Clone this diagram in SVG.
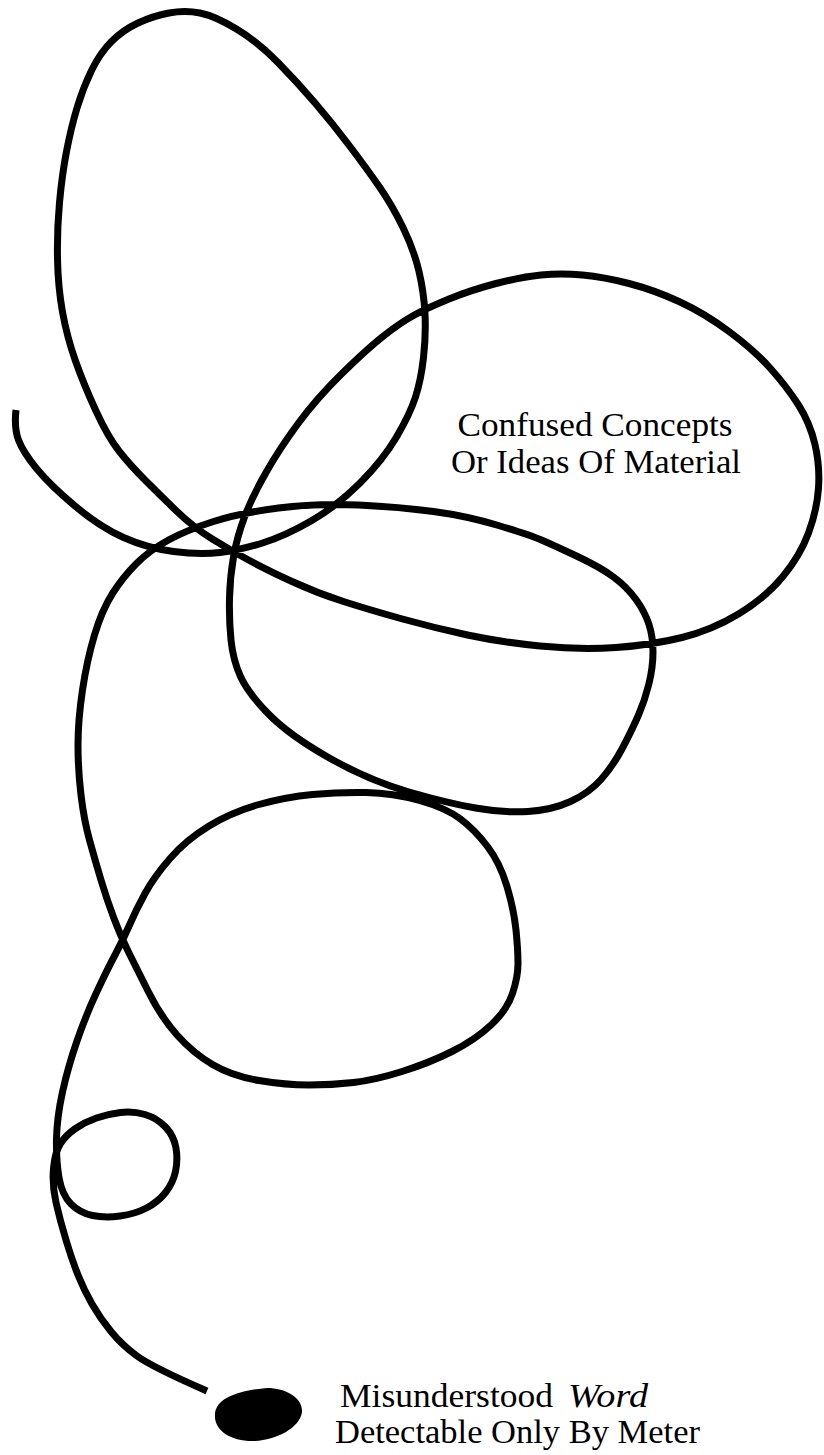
<svg xmlns="http://www.w3.org/2000/svg" width="824" height="1455" viewBox="0 0 824 1455">
<style>
.line{fill:none;stroke:#000;stroke-width:7;stroke-linecap:butt;stroke-linejoin:round}
.lbl{font-family:"Liberation Serif","Times New Roman",serif;font-size:34px;fill:#000}
</style>
<rect width="824" height="1455" fill="#fff"/>
<g id="connectors">
<path class="line" d="M16 410 Q14 428 18.5 440 Q23 452 36.5 468.5 Q50 485 75 506 Q100 527 123.5 537.5 Q147 548 173.5 551.5 Q200 555 220 552.5 Q240 550 262.5 543 Q285 536 311 521 Q337 506 360 483 Q383 460 396.5 437 Q410 414 415.5 397 Q421 380 423.5 357.5 Q426 335 425 314 Q424 293 419 271.5 Q414 250 403 227.5 Q392 205 379.5 187 Q367 169 350 146.5 Q333 124 315.5 103.5 Q298 83 278 62.5 Q258 42 236.5 29 Q215 16 200 13 Q185 10 169 13 Q153 16 138 23 Q123 30 111.5 41.5 Q100 53 91.5 70.5 Q83 88 77 108 Q71 128 66.5 151.5 Q62 175 59.5 202.5 Q57 230 57.5 258.5 Q58 287 62.5 312 Q67 337 75.5 361 Q84 385 96 411 Q108 437 119 451 Q130 465 145 480 Q160 495 176.5 511 Q193 527 211.5 538.5 Q230 550 248.5 560 Q267 570 292 581.5 Q317 593 343.5 601.5 Q370 610 402.5 619 Q435 628 467.5 635 Q500 642 540 646 Q580 650 616 647.5 Q652 645 682 637.5 Q712 630 738.5 614 Q765 598 782.5 577 Q800 556 808.5 533 Q817 510 818.5 488 Q820 466 815 444.5 Q810 423 798.5 405 Q787 387 770.5 368.5 Q754 350 729 331.5 Q704 313 679 301.5 Q654 290 629 283.5 Q604 277 582.5 275 Q561 273 541 275 Q521 277 496 283.5 Q471 290 449 299 Q427 308 413.5 315.5 Q400 323 383.5 336 Q367 349 342 373.5 Q317 398 298.5 423 Q280 448 266 472.5 Q252 497 244.5 517 Q237 537 233.5 557 Q230 577 229.5 598.5 Q229 620 231 640 Q233 660 240.5 676.5 Q248 693 268.5 714 Q289 735 328.5 757.5 Q368 780 407.5 791.5 Q447 803 475.5 808 Q504 813 528 811.5 Q552 810 570.5 801.5 Q589 793 601 779.5 Q613 766 622.5 748 Q632 730 638.5 715 Q645 700 649 683.5 Q653 667 653 652 Q653 637 649 624.5 Q645 612 636 599.5 Q627 587 613.5 577 Q600 567 576.5 556 Q553 545 541.5 540 Q530 535 498.5 525.5 Q467 516 433.5 511.5 Q400 507 358.5 505 Q317 503 278.5 508 Q240 513 213.5 521.5 Q187 530 168.5 540 Q150 550 136.5 563.5 Q123 577 112.5 593.5 Q102 610 94.5 635 Q87 660 82.5 690 Q78 720 78 745 Q78 770 81 795 Q84 820 89.5 840 Q95 860 101 880 Q107 900 114 918.5 Q121 937 128.5 952 Q136 967 148.5 992 Q161 1017 177 1035 Q193 1053 212.5 1064.5 Q232 1076 259 1080.5 Q286 1085 309 1085 Q332 1085 353.5 1082.5 Q375 1080 402 1071.5 Q429 1063 452 1051.5 Q475 1040 491 1025 Q507 1010 512.5 993.5 Q518 977 518 963.5 Q518 950 516 930 Q514 910 507 886.5 Q500 863 487.5 846.5 Q475 830 460.5 819 Q446 808 419.5 800.5 Q393 793 366 792.5 Q339 792 312.5 794.5 Q286 797 259 804.5 Q232 812 209 826 Q186 840 170 858.5 Q154 877 145 893.5 Q136 910 129.5 925 Q123 940 115 955 Q107 970 96.5 992.5 Q86 1015 77 1041 Q68 1067 62.5 1092 Q57 1117 56.5 1138.5 Q56 1160 59 1177.5 Q62 1195 71 1204 Q80 1213 92.5 1215.5 Q105 1218 120 1216 Q135 1214 146.5 1208 Q158 1202 165.5 1192.5 Q173 1183 175.5 1171.5 Q178 1160 176 1148 Q174 1136 165.5 1127 Q157 1118 145 1114.5 Q133 1111 120.5 1112.5 Q108 1114 96.5 1118 Q85 1122 75.5 1128.5 Q66 1135 60.5 1143.5 Q55 1152 53.5 1168.5 Q52 1185 56 1202.5 Q60 1220 66 1240 Q72 1260 78 1275 Q84 1290 92 1304 Q100 1318 111 1331.5 Q122 1345 137 1356 Q152 1367 207 1391"/>
</g>
<g id="misunderstood-word-blob">
<path d="M215 1415 C215 1396 245 1390 267 1388 C286 1388 303 1398 302 1412 C300 1428 276 1440 255 1441 C232 1442 214 1431 215 1415 Z" fill="#000"/>
</g>
<g id="label-confused">
<text class="lbl" x="595" y="436" text-anchor="middle" textLength="275" lengthAdjust="spacingAndGlyphs">Confused Concepts</text>
<text class="lbl" x="596" y="473" text-anchor="middle" textLength="290" lengthAdjust="spacingAndGlyphs">Or Ideas Of Material</text>
</g>
<g id="label-misunderstood">
<text class="lbl" x="340" y="1407"><tspan textLength="213" lengthAdjust="spacingAndGlyphs">Misunderstood</tspan> <tspan x="568" font-style="italic" textLength="80" lengthAdjust="spacingAndGlyphs">Word</tspan></text>
<text class="lbl" x="335" y="1443" textLength="365" lengthAdjust="spacingAndGlyphs">Detectable Only By Meter</text>
</g>
</svg>
